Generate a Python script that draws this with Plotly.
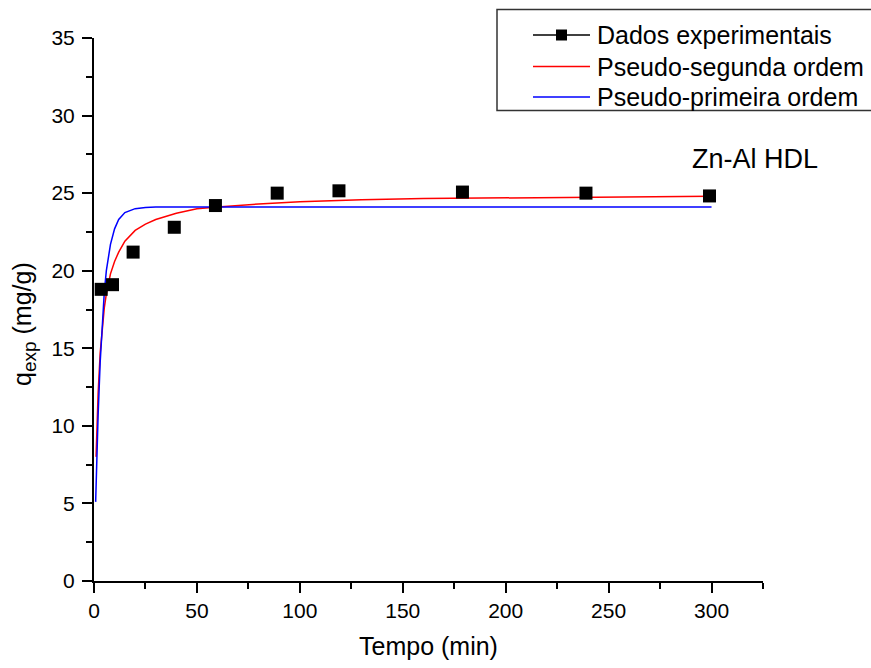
import plotly.graph_objects as go

# Experimental kinetic data: contact time (min) vs adsorbed amount (mg/g)
tempo_exp = [3.5, 9, 19, 39, 59, 89, 119, 179, 239, 299]
q_exp = [18.8, 19.1, 21.2, 22.8, 24.2, 25.0, 25.15, 25.07, 25.0, 24.82]

# Pseudo-second-order fitted curve
tempo_pso = [1, 1.5, 2, 3, 4, 5, 6, 8, 10, 12, 15, 20, 25, 30, 40, 50, 60,
             80, 100, 130, 160, 200, 250, 300]
q_pso = [8.0, 10.4, 12.1, 14.7, 16.3, 17.6, 18.5, 19.8, 20.6, 21.2, 21.9, 22.6,
         23.0, 23.3, 23.7, 24.0, 24.1, 24.3, 24.45, 24.58, 24.65, 24.7, 24.76, 24.8]

# Pseudo-first-order fitted curve
tempo_pfo = [0.8, 1, 1.5, 2, 3, 4, 5, 6, 8, 10, 12, 15, 20, 25, 30, 60, 300]
q_pfo = [5.1, 6.2, 8.6, 10.7, 14.1, 16.7, 18.6, 20.0, 21.7, 22.7, 23.3, 23.75,
         24.0, 24.08, 24.1, 24.1, 24.1]

legend_labels = ["Dados experimentais", "Pseudo-segunda ordem", "Pseudo-primeira ordem"]
sample_label = "Zn-Al HDL"

FONT = "Arial, Liberation Sans, sans-serif"
W, H = 871, 668
L, R, T, B = 94, 763, 38, 581


def xp(px):
    return (px - L) / (R - L)


def yp(py):
    return (B - py) / (B - T)


fig = go.Figure()

fig.add_trace(go.Scatter(x=tempo_pso, y=q_pso, mode="lines",
                         line=dict(color="#ff0000", width=1.5),
                         name=legend_labels[1], showlegend=False))
fig.add_trace(go.Scatter(x=tempo_pfo, y=q_pfo, mode="lines",
                         line=dict(color="#0000ff", width=1.5),
                         name=legend_labels[2], showlegend=False))
fig.add_trace(go.Scatter(x=tempo_exp, y=q_exp, mode="markers",
                         marker=dict(symbol="square", size=13, color="#000000",
                                     line=dict(width=0)),
                         name=legend_labels[0], showlegend=False, cliponaxis=False))

axis_common = dict(
    showline=True, linecolor="#000000", linewidth=2,
    ticks="outside", ticklen=10, tickwidth=2, tickcolor="#000000",
    showgrid=False, zeroline=False, mirror=False,
    tickfont=dict(family=FONT, size=21, color="#000000"),
)

fig.update_xaxes(range=[0, 325], tick0=0, dtick=50,
                 minor=dict(dtick=25, ticks="outside", ticklen=6,
                            tickwidth=2, tickcolor="#000000"),
                 title=dict(text="Tempo (min)",
                            font=dict(family=FONT, size=25, color="#000000"),
                            standoff=16),
                 **axis_common)
fig.update_yaxes(range=[0, 35], tick0=0, dtick=5, ticklabelstandoff=3,
                 minor=dict(dtick=2.5, ticks="outside", ticklen=6,
                            tickwidth=2, tickcolor="#000000"),
                 **axis_common)

annotations = [
    # y-axis title
    dict(x=xp(24), y=yp(324), xref="paper", yref="paper",
         text='q<sub><span style="font-size:19px">exp</span></sub> (mg/g)',
         textangle=-90, showarrow=False,
         xanchor="center", yanchor="middle",
         font=dict(family=FONT, size=25, color="#000000")),
    # sample label
    dict(x=xp(690), y=yp(159), xref="paper", yref="paper",
         text=sample_label, showarrow=False, xanchor="left", yanchor="middle",
         font=dict(family=FONT, size=27, color="#000000")),
]

shapes = [
    # legend frame
    dict(type="rect", xref="paper", yref="paper",
         x0=xp(497), x1=xp(890), y0=yp(110.5), y1=yp(9.5),
         line=dict(color="#333333", width=1.5), fillcolor="rgba(0,0,0,0)"),
]

row_y = [35, 66.5, 97]
row_colors = ["#000000", "#ff0000", "#0000ff"]
for label, ry, col in zip(legend_labels, row_y, row_colors):
    shapes.append(dict(type="line", xref="paper", yref="paper",
                       x0=xp(533), x1=xp(590), y0=yp(ry), y1=yp(ry),
                       line=dict(color=col, width=1.5)))
    annotations.append(dict(x=xp(595), y=yp(ry), xref="paper", yref="paper",
                            text=label, showarrow=False,
                            xanchor="left", yanchor="middle",
                            font=dict(family=FONT, size=25, color="#000000")))
# square marker on the experimental-data legend line
shapes.append(dict(type="rect", xref="paper", yref="paper",
                   x0=xp(556), x1=xp(567), y0=yp(row_y[0] + 5.5), y1=yp(row_y[0] - 5.5),
                   line=dict(width=0), fillcolor="#000000"))

fig.update_layout(
    width=W, height=H,
    margin=dict(l=L, r=W - R, t=T, b=H - B),
    paper_bgcolor="#ffffff", plot_bgcolor="#ffffff",
    showlegend=False,
    annotations=annotations, shapes=shapes,
)

fig.write_html("out.html")
